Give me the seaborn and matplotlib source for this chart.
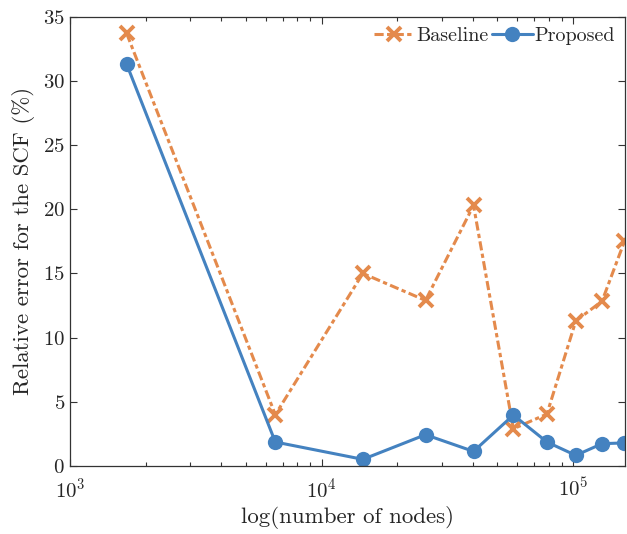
import numpy as np
import pandas as pd
import matplotlib
matplotlib.use("Agg")
import matplotlib.pyplot as plt
import seaborn as sns

# Data
nodes = [1680, 6550, 14600, 25900, 40200, 57900, 78700, 102500, 130400, 160000]
baseline = [33.7, 4.0, 15.0, 12.9, 20.3, 2.9, 4.05, 11.3, 12.85, 17.5]
proposed = [31.3, 1.87, 0.52, 2.44, 1.14, 3.97, 1.87, 0.83, 1.74, 1.8]

df = pd.DataFrame({
    "nodes": nodes,
    "Baseline": baseline,
    "Proposed": proposed,
})

sns.set_style("ticks")
plt.rcParams["font.family"] = ["serif"]
plt.rcParams["font.serif"] = ["cmr10", "DejaVu Serif"]
plt.rcParams["mathtext.fontset"] = "cm"
plt.rcParams["axes.formatter.use_mathtext"] = True
plt.rcParams["xtick.direction"] = "in"
plt.rcParams["ytick.direction"] = "in"

orange = "#E48A4C"
blue = "#4482C0"

fig = plt.figure(figsize=(6.27, 5.34), dpi=100)
ax = fig.add_axes([0.1116, 0.1273, 0.8854, 0.8414])

sns.lineplot(
    data=df, x="nodes", y="Baseline", ax=ax,
    color=orange, linestyle=(0, (3.0, 1.1, 1.4, 1.1)), linewidth=2.2,
    marker="x", markersize=10, markeredgewidth=2.8, markeredgecolor=orange,
    label="Baseline", sort=False,
)
sns.lineplot(
    data=df, x="nodes", y="Proposed", ax=ax,
    color=blue, linestyle="-", linewidth=2.2,
    marker="o", markersize=11, markeredgewidth=0, markeredgecolor=blue,
    label="Proposed", sort=False,
)

ax.set_xscale("log")
ax.set_xlim(1e3, 1.61e5)
ax.set_ylim(0, 35)
ax.set_yticks(np.arange(0, 36, 5))
ax.set_xticks([1e3, 1e4, 1e5])

ax.tick_params(which="both", top=True, right=True, direction="in",
               labelsize=15, color="#333333")
ax.tick_params(axis="x", which="major", pad=8)
ax.tick_params(which="major", length=5, width=0.8)
ax.tick_params(which="minor", length=3, width=0.8)
for s in ax.spines.values():
    s.set_color("#333333")
    s.set_linewidth(0.9)

ax.set_xlabel("log(number of nodes)", fontsize=16.5, labelpad=3)
ax.set_ylabel("Relative error for the SCF (%)", fontsize=16.5, labelpad=6)

ax.legend(loc="upper right", ncol=2, frameon=False, fontsize=14.5,
          handlelength=2.0, handletextpad=0.1, columnspacing=0.2,
          borderaxespad=0.3, borderpad=0.2)

fig.savefig("out.png", dpi=100)
